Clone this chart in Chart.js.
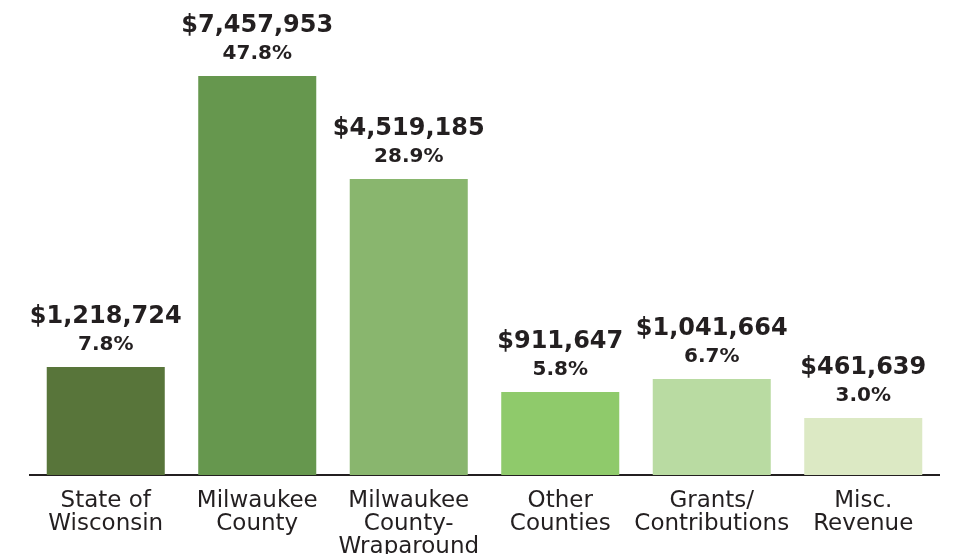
<!DOCTYPE html>
<html>
<head>
<meta charset="utf-8">
<script src="https://cdn.jsdelivr.net/npm/chart.js@4/dist/chart.umd.min.js"></script>
<style>
  html, body { margin: 0; padding: 0; background: #ffffff; }
  #wrap { width: 961px; height: 554px; position: relative; }
</style>
</head>
<body>
<div id="wrap"><canvas id="c"></canvas></div>
<script>
// Categories (multi-line tick labels)
const categories = [
  ["State of", "Wisconsin"],
  ["Milwaukee", "County"],
  ["Milwaukee", "County-", "Wraparound"],
  ["Other", "Counties"],
  ["Grants/", "Contributions"],
  ["Misc.", "Revenue"]
];
// Revenue amounts and shares as printed on the chart
const amounts = [1218724, 7457953, 4519185, 911647, 1041664, 461639];
const shares = [7.8, 47.8, 28.9, 5.8, 6.7, 3.0];
// The original bars are not drawn to scale; these are the drawn bar lengths (relative units)
const barHeights = [108, 399, 296, 83, 96, 57];
const barColors = ["#58753a", "#66974e", "#89b66e", "#8fca6b", "#b9dba2", "#dce9c4"];

const textColor = "#231f20";

const valueLabels = {
  id: "valueLabels",
  afterDatasetsDraw(chart) {
    const ctx = chart.ctx;
    const meta = chart.getDatasetMeta(0);
    ctx.save();
    ctx.fillStyle = textColor;
    ctx.textAlign = "center";
    ctx.textBaseline = "middle";
    meta.data.forEach((bar, i) => {
      const x = bar.x;
      const y = bar.y;
      ctx.font = "bold 24px 'DejaVu Sans', sans-serif";
      ctx.fillText("$" + amounts[i].toLocaleString("en-US"), x, y - 50);
      ctx.font = "bold 20px 'DejaVu Sans', sans-serif";
      ctx.fillText(shares[i].toFixed(1) + "%", x, y - 22);
    });
    ctx.restore();
  }
};

new Chart(document.getElementById("c"), {
  type: "bar",
  data: {
    labels: categories,
    datasets: [{
      data: barHeights,
      backgroundColor: barColors,
      borderWidth: 0,
      barPercentage: 0.779,
      categoryPercentage: 1.0
    }]
  },
  options: {
    responsive: true,
    maintainAspectRatio: false,
    animation: false,
    events: [],
    layout: { padding: { left: 30, right: 22, top: 0, bottom: 0 } },
    plugins: {
      legend: { display: false },
      tooltip: { enabled: false },
      title: { display: false }
    },
    scales: {
      x: {
        z: 1,
        grid: { display: false, drawTicks: false },
        border: { display: true, color: "#231f20", width: 2 },
        ticks: {
          color: textColor,
          padding: 14,
          maxRotation: 0,
          autoSkip: false,
          font: { family: "'DejaVu Sans', sans-serif", size: 23, lineHeight: 1.013 }
        },
        afterFit(scale) { scale.height = 79; }
      },
      y: {
        display: false,
        min: 0,
        max: 475
      }
    }
  },
  plugins: [valueLabels]
});
</script>
</body>
</html>
